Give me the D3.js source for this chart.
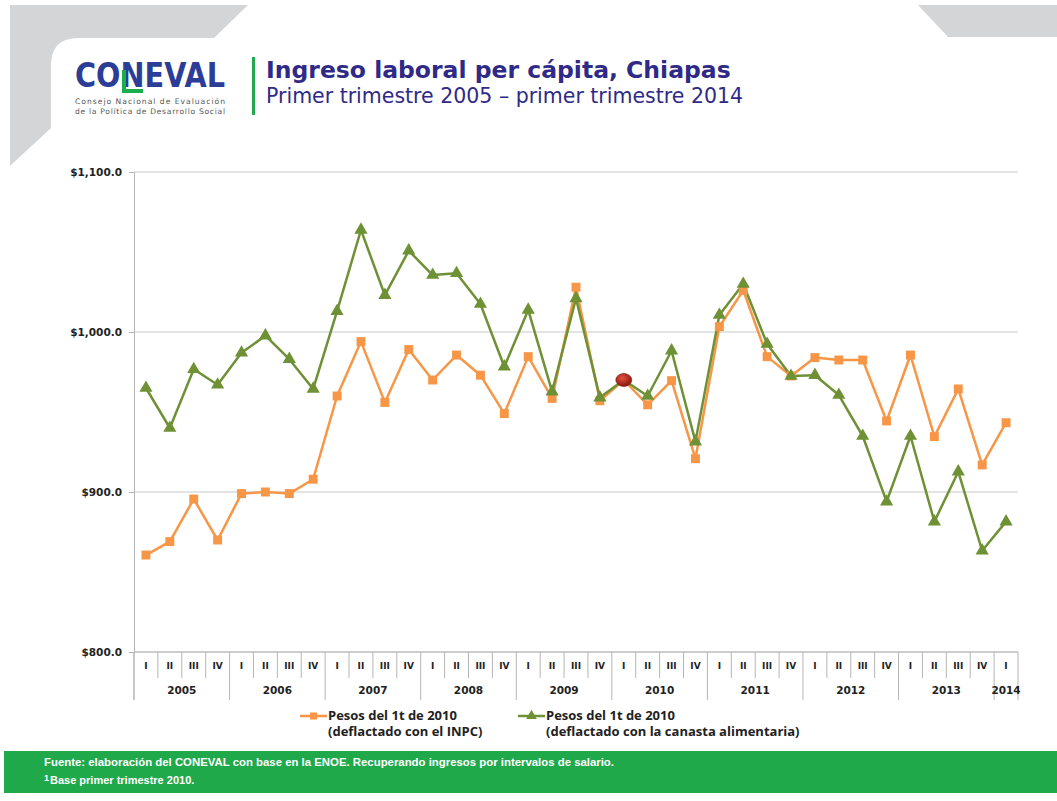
<!DOCTYPE html>
<html><head><meta charset="utf-8">
<script src="https://cdn.jsdelivr.net/npm/d3@7/dist/d3.min.js"></script>
<style>
html,body{margin:0;padding:0;background:#fff;}
svg{display:block;}
</style></head>
<body>
<svg id="c" width="1057" height="801"></svg>
<script>
// ---------- DATA ----------
const years = ["2005","2006","2007","2008","2009","2010","2011","2012","2013","2014"];
const quarters = ["I","II","III","IV"];
const categories = [];
years.forEach(y => quarters.forEach(q => { if (!(y === "2014" && q !== "I")) categories.push({year: y, q: q}); }));

const inpcValues = [860.6, 869, 895.6, 870, 899, 900, 899, 908,
  960, 994, 956, 989, 970, 985.6, 973, 949,
  984.6, 958.5, 1028, 957, 970, 954.5, 969.6, 920.8,
  1003.3, 1026, 984.6, 972.5, 984, 982.5, 982.5, 944.4,
  985.6, 934.6, 964.4, 916.9, 943.3];
const canastaValues = [965, 940, 976.7, 967, 987, 997.7, 983, 964.4,
  1013, 1063.8, 1023, 1050.8, 1035.6, 1036.7, 1017.5, 978.3,
  1013.8, 962.7, 1021, 959, 970, 960, 988.3, 931.5,
  1010.6, 1030, 992.5, 972.5, 973, 960.6, 935, 894,
  935, 881.5, 912.7, 863.3, 881.5];
const baseIndex = 20; // primer trimestre 2010
const yTicks = [800, 900, 1000, 1100];

const titleText = "Ingreso laboral per cápita, Chiapas";
const subtitleText = "Primer trimestre 2005 – primer trimestre 2014";
const legendLabels = [["Pesos del 1t de 2010", "(deflactado con el INPC)"],
                      ["Pesos del 1t de 2010", "(deflactado con la canasta alimentaria)"]];
const footLine1 = "Fuente: elaboración del CONEVAL con base en la ENOE. Recuperando ingresos  por intervalos de salario.";
const footLine2 = "Base primer trimestre 2010.";

// ---------- LAYOUT ----------
const svg = d3.select("#c");
const orange = "#f79646", green = "#6f9136";
const plot = {left: 134, right: 1018, top: 172, bottom: 652};

// decorative header shapes
svg.append("path").attr("fill", "#d3d5d7")
  .attr("d", "M10,5 L248,5 L214,38 L78,38 Q52,38 51,64 L51,128 L10,166 Z");
svg.append("path").attr("fill", "#d3d5d7")
  .attr("d", "M918,5 L1057,5 L1057,37 L948,37 Z");

// logo
const logo = svg.append("g");
logo.append("text").attr("x", 75).attr("y", 87)
  .attr("font-family", "DejaVu Sans").attr("font-weight", "bold")
  .attr("font-size", 34).attr("fill", "#2c3d97")
  .attr("textLength", 150).attr("lengthAdjust", "spacingAndGlyphs")
  .text("CONEVAL");
logo.append("path").attr("fill", "none").attr("stroke", "#19b04b").attr("stroke-width", 4)
  .attr("d", "M124,70 L124,91 L143,91");
logo.append("text").attr("x", 75).attr("y", 104)
  .attr("font-family", "DejaVu Sans").attr("font-size", 7.6).attr("fill", "#555")
  .attr("textLength", 150).text("Consejo Nacional de Evaluación");
logo.append("text").attr("x", 75).attr("y", 114)
  .attr("font-family", "DejaVu Sans").attr("font-size", 7.6).attr("fill", "#555")
  .attr("textLength", 150).text("de la Política de Desarrollo Social");

// green bar + title
svg.append("rect").attr("x", 252).attr("y", 57).attr("width", 3).attr("height", 58).attr("fill", "#22a94f");
svg.append("text").attr("x", 266).attr("y", 78)
  .attr("font-family", "DejaVu Sans").attr("font-weight", "bold").attr("font-size", 23.5)
  .attr("fill", "#2f2a88").text(titleText);
svg.append("text").attr("x", 266).attr("y", 103)
  .attr("font-family", "DejaVu Sans").attr("font-size", 20.5)
  .attr("fill", "#2f2a88").text(subtitleText);

// ---------- SCALES ----------
const x = d3.scaleBand().domain(d3.range(categories.length)).range([plot.left, plot.right]).padding(0);
const y = d3.scaleLinear().domain([800, 1100]).range([plot.bottom, plot.top]);
const cx = i => x(i) + x.bandwidth() / 2;

// gridlines
svg.append("g").selectAll("line").data(yTicks).join("line")
  .attr("x1", plot.left).attr("x2", plot.right)
  .attr("y1", d => y(d)).attr("y2", d => y(d))
  .attr("stroke", "#c9c9c9").attr("stroke-width", 1.2);

// y axis
const yAxis = svg.append("g").attr("transform", `translate(${plot.left},0)`)
  .call(d3.axisLeft(y).tickValues(yTicks).tickSize(5).tickFormat(d => "$" + d3.format(",.1f")(d)));
yAxis.select(".domain").attr("stroke", "#b5b5b5");
yAxis.selectAll(".tick line").attr("stroke", "#b5b5b5");
yAxis.selectAll(".tick text").attr("x", -12)
  .attr("font-family", "DejaVu Sans").attr("font-weight", "bold").attr("font-size", 10.5).attr("fill", "#222");

// x axis (two-level)
const xg = svg.append("g");
xg.append("line").attr("x1", plot.left).attr("x2", plot.right).attr("y1", plot.bottom).attr("y2", plot.bottom)
  .attr("stroke", "#b5b5b5");
const bounds = d3.range(categories.length + 1);
xg.selectAll("line.sep").data(bounds).join("line").attr("class", "sep")
  .attr("x1", i => i < categories.length ? x(i) : plot.right)
  .attr("x2", i => i < categories.length ? x(i) : plot.right)
  .attr("y1", plot.bottom)
  .attr("y2", i => (i % 4 === 0 || i === categories.length) ? 700 : 678)
  .attr("stroke", "#b5b5b5");
svg.append("line").attr("x1", plot.left).attr("x2", plot.left).attr("y1", plot.bottom).attr("y2", 700).attr("stroke", "#b5b5b5");
xg.selectAll("text.q").data(categories).join("text").attr("class", "q")
  .attr("x", (d, i) => cx(i)).attr("y", 669).attr("text-anchor", "middle")
  .attr("font-family", "DejaVu Sans").attr("font-weight", "bold").attr("font-size", 9).attr("fill", "#222")
  .text(d => d.q);
xg.selectAll("text.yr").data(years).join("text").attr("class", "yr")
  .attr("x", yr => {
    const idx = categories.map((c, i) => c.year === yr ? i : -1).filter(i => i >= 0);
    return yr === "2014" ? cx(idx[0]) : (x(idx[0]) + x(idx[idx.length - 1]) + x.bandwidth()) / 2;
  })
  .attr("y", 694).attr("text-anchor", "middle")
  .attr("font-family", "DejaVu Sans").attr("font-weight", "bold").attr("font-size", 10.5).attr("fill", "#222")
  .text(d => d);

// ---------- SERIES ----------
const line = d3.line().x((d, i) => cx(i)).y(d => y(d));
svg.append("path").datum(inpcValues).attr("d", line).attr("fill", "none")
  .attr("stroke", orange).attr("stroke-width", 2.5).attr("stroke-linejoin", "round");
svg.append("path").datum(canastaValues).attr("d", line).attr("fill", "none")
  .attr("stroke", green).attr("stroke-width", 2.5).attr("stroke-linejoin", "round");

const sq = d3.symbol().type(d3.symbolSquare).size(80);
const tri = d3.symbol().type(d3.symbolTriangle).size(75);
svg.append("g").selectAll("path").data(inpcValues).join("path")
  .attr("d", sq).attr("transform", (d, i) => `translate(${cx(i)},${y(d)})`).attr("fill", orange);
svg.append("g").selectAll("path").data(canastaValues).join("path")
  .attr("d", tri).attr("transform", (d, i) => `translate(${cx(i)},${y(d)})`).attr("fill", green);

// base point marker
const defs = svg.append("defs");
const rg = defs.append("radialGradient").attr("id", "rg").attr("cx", "40%").attr("cy", "35%").attr("r", "65%");
rg.append("stop").attr("offset", "0%").attr("stop-color", "#e0533f");
rg.append("stop").attr("offset", "100%").attr("stop-color", "#8c140d");
svg.append("ellipse").attr("cx", cx(baseIndex)).attr("cy", y(inpcValues[baseIndex]))
  .attr("rx", 8).attr("ry", 6.5).attr("fill", "url(#rg)").attr("stroke", "#7a1a10").attr("stroke-width", 0.6);

// ---------- LEGEND ----------
const lg = svg.append("g");
const legendItems = [{x: 300, color: orange, sym: sq, labels: legendLabels[0]},
                     {x: 518, color: green, sym: tri, labels: legendLabels[1]}];
legendItems.forEach(it => {
  lg.append("line").attr("x1", it.x).attr("x2", it.x + 27).attr("y1", 716).attr("y2", 716)
    .attr("stroke", it.color).attr("stroke-width", 2.5);
  lg.append("path").attr("d", it.sym.size(50)()).attr("transform", `translate(${it.x + 13.5},716)`).attr("fill", it.color);
  it.labels.forEach((t, k) => lg.append("text").attr("x", it.x + 28).attr("y", 720 + k * 16)
    .attr("font-family", "Open Sans").attr("font-weight", "bold").attr("font-size", 13).attr("fill", "#222").text(t));
});

// ---------- FOOTER ----------
svg.append("rect").attr("x", 4).attr("y", 751).attr("width", 1053).attr("height", 42).attr("fill", "#1fa94b");
svg.append("text").attr("x", 44).attr("y", 766)
  .attr("font-family", "Liberation Sans Narrow, Liberation Sans").attr("font-weight", "bold").attr("font-size", 11)
  .attr("fill", "#fff").attr("textLength", 570).attr("lengthAdjust", "spacingAndGlyphs").text(footLine1);
const f2 = svg.append("text").attr("x", 44).attr("y", 784)
  .attr("font-family", "Liberation Sans Narrow, Liberation Sans").attr("font-weight", "bold").attr("font-size", 11)
  .attr("fill", "#fff");
f2.append("tspan").attr("font-size", 9).attr("dy", -3).text("1");
f2.append("tspan").attr("dy", 3).attr("dx", 1).text(footLine2);
</script>
</body></html>
